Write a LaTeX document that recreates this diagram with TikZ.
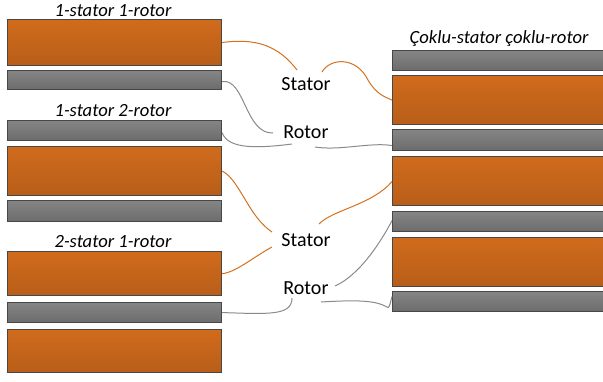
\documentclass[tikz,border=0pt]{standalone}
\usepackage{fontspec}
\setmainfont{Carlito}
\begin{document}
\begin{tikzpicture}[x=1pt,y=-1pt,
  base/.style={draw=black!72,line width=1.1pt,inner sep=0pt,anchor=north west},
  sbox/.style={base,top color=orange1,bottom color=orange2,minimum height=#1},
  rbox/.style={base,top color=gray1,bottom color=gray2,minimum height=#1},
  title/.style={font=\fontsize{18.6}{20}\selectfont\itshape,anchor=base},
  lab/.style={font=\fontsize{20}{22}\selectfont,anchor=base,inner sep=1pt},
  oc/.style={draw=corange,line width=1pt},
  gc/.style={draw=cgray,line width=1pt}]
\definecolor{orange1}{HTML}{D06B1C}
\definecolor{orange2}{HTML}{B85E19}
\definecolor{gray1}{HTML}{858585}
\definecolor{gray2}{HTML}{6C6C6C}
\definecolor{corange}{HTML}{D4711F}
\definecolor{cgray}{HTML}{8A8A8A}
\useasboundingbox (0,0) rectangle (603,381);
% left column
\node[title] (t1) at (113,16.5) {1-stator 1-rotor};
\node[sbox=46pt,minimum width=214pt] (o1) at (7,19) {};
\node[rbox=19pt,minimum width=214pt] (g1) at (7,70) {};
\node[title] (t2) at (113,116) {1-stator 2-rotor};
\node[rbox=20pt,minimum width=214pt] (g2) at (7,120) {};
\node[sbox=49pt,minimum width=214pt] (o2) at (7,145.5) {};
\node[rbox=21pt,minimum width=214pt] (g3) at (7,200) {};
\node[title] (t3) at (113,247.5) {2-stator 1-rotor};
\node[sbox=44pt,minimum width=214pt] (o3) at (7,251) {};
\node[rbox=20pt,minimum width=214pt] (g4) at (7,302) {};
\node[sbox=43pt,minimum width=214pt] (o4) at (7,329) {};
% right column
\node[title] (t4) at (499,43.5) {Çoklu-stator çoklu-rotor};
\node[rbox=20pt,minimum width=220pt] (rg1) at (392,50) {};
\node[sbox=49pt,minimum width=220pt] (ro1) at (392,75) {};
\node[rbox=21pt,minimum width=220pt] (rg2) at (392,129) {};
\node[sbox=49pt,minimum width=220pt] (ro2) at (392,156) {};
\node[rbox=20pt,minimum width=220pt] (rg3) at (392,211) {};
\node[sbox=49pt,minimum width=220pt] (ro3) at (392,237) {};
\node[rbox=20pt,minimum width=220pt] (rg4) at (392,291) {};
% labels
\node[lab] (s1) at (306,90) {Stator};
\node[lab] (r1) at (306,138) {Rotor};
\node[lab] (s2) at (306,246) {Stator};
\node[lab] (r2) at (306,294) {Rotor};
\coordinate (s1w) at (297,70);
\coordinate (s1e) at (322,72);
\coordinate (r1w) at (273,133);
\coordinate (r1sw) at (292,144);
\coordinate (r1e) at (315,147);
\coordinate (s2w) at (272,232);
\coordinate (s2sw) at (272,247);
\coordinate (s2e) at (319,224);
\coordinate (r2w) at (292,298);
\coordinate (r2e) at (335,286);
\coordinate (r2se) at (321,302);
% connectors
\draw[oc] (o1.east) .. controls (255,38) and (278,45) .. (s1w);
\draw[gc] ([yshift=-1.5pt]g1.east) .. controls (245,78) and (245,134) .. (r1w);
\draw[gc] ([yshift=-2pt]g2.east) .. controls (228,150) and (260,148) .. (r1sw);
\draw[oc] ([yshift=-0.5pt]o2.east) .. controls (240,180) and (248,216) .. (s2w);
\draw[oc] ([yshift=0pt]o3.east) .. controls (235,273) and (255,256) .. (s2sw);
\draw[gc] ([yshift=0pt]g4.east) .. controls (268,314) and (292,316) .. (r2w);
\draw[oc] (s1e) .. controls (330,58) and (356,56) .. (368,80) .. controls (376,94) and (385,97) .. (ro1.west);
\draw[gc] (r1e) .. controls (340,151) and (370,142) .. ([yshift=-5.5pt]rg2.west);
\draw[oc] (s2e) .. controls (332,210) and (372,205) .. ([yshift=-0.5pt]ro2.west);
\draw[gc] (r2e) .. controls (360,275) and (382,240) .. ([yshift=1pt]rg3.west);
\draw[gc] (r2se) .. controls (355,300) and (375,300) .. (387,307) .. controls (389,308) .. ([yshift=5pt]rg4.west);
\end{tikzpicture}
\end{document}
